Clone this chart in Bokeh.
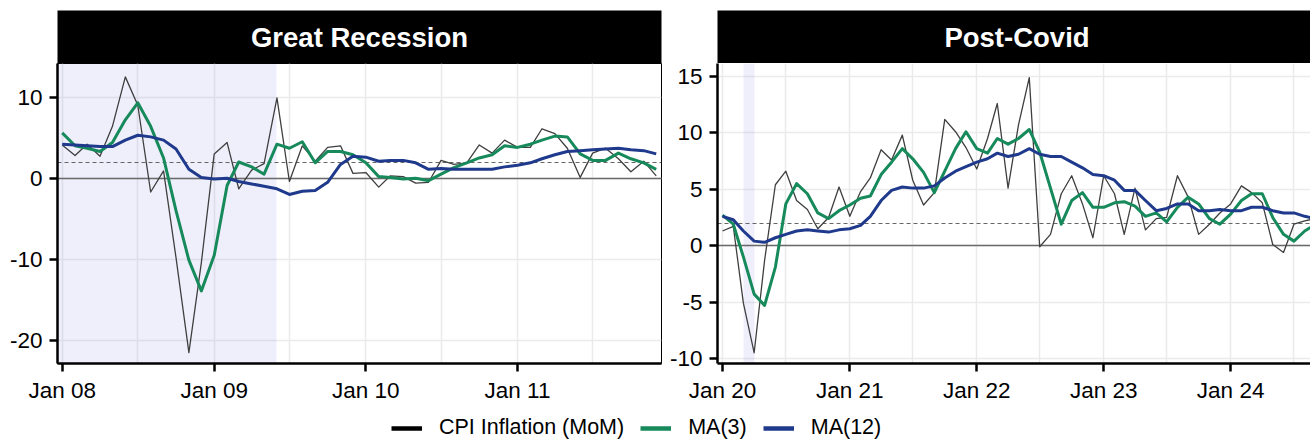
import pandas as pd
from bokeh.plotting import figure
from bokeh.layouts import column, row
from bokeh.models import (ColumnDataSource, FixedTicker, DatetimeTickFormatter,
                          Range1d, Legend, LegendItem, Label)
from bokeh.embed import file_html
from bokeh.resources import INLINE

# ---------------- data ----------------
panel_titles = ["Great Recession", "Post-Covid"]
series_names = ["CPI Inflation (MoM)", "MA(3)", "MA(12)"]

gr_start = "2008-01-01"
gr_cpi = [4.1, 2.8, 4.2, 2.7, 6.4, 12.5, 9.0, -1.7, 0.9, -9.8, -21.5, -10.4,
          3.0, 4.4, -1.3, 1.0, 1.8, 9.9, -0.4, 4.0, 2.1, 3.8, 4.0, 0.6,
          0.7, -1.1, 0.3, 0.2, -0.6, -0.5, 2.2, 1.7, 1.9, 4.1, 3.1, 4.7,
          3.8, 3.8, 6.1, 5.5, 3.7, 0.1, 3.1, 3.7, 2.4, 0.8, 2.1, 0.3]
gr_ma3 = [5.6, 4.0, 3.7, 3.3, 4.4, 7.2, 9.3, 6.4, 2.5, -4.0, -10.1, -13.9,
          -9.5, -0.9, 2.0, 1.4, 0.5, 4.2, 3.7, 4.5, 1.9, 3.3, 3.3, 2.9,
          1.9, 0.2, 0.1, -0.1, 0.0, -0.3, 0.5, 1.3, 1.9, 2.5, 2.9, 4.0,
          3.8, 4.2, 4.7, 5.2, 5.1, 3.0, 2.2, 2.2, 3.1, 2.4, 1.9, 1.1]
gr_ma12 = [4.2, 4.1, 4.0, 3.9, 3.9, 4.7, 5.3, 5.1, 4.7, 3.6, 1.1, 0.1,
           -0.1, 0.0, -0.4, -0.7, -1.0, -1.3, -2.0, -1.6, -1.5, -0.5, 1.7, 2.7,
           2.6, 2.1, 2.2, 2.2, 1.9, 1.1, 1.2, 1.1, 1.1, 1.1, 1.1, 1.4,
           1.6, 1.9, 2.4, 2.9, 3.3, 3.4, 3.5, 3.6, 3.7, 3.5, 3.4, 3.0]
gr_recession = ["2007-12-01", "2009-06-01"]
gr_year_ticks = ["2008-01-01", "2009-01-01", "2010-01-01", "2011-01-01"]
gr_half_ticks = ["2008-07-01", "2009-07-01", "2010-07-01", "2011-07-01"]
gr_y_ticks = [-20, -10, 0, 10]

pc_start = "2020-01-01"
pc_cpi = [1.3, 1.7, -5.1, -9.5, -1.3, 5.4, 6.6, 4.0, 3.2, 1.5, 2.5, 5.2,
          2.6, 4.8, 6.0, 8.5, 7.6, 9.8, 5.8, 3.6, 4.7, 11.2, 10.1, 8.7,
          6.8, 9.5, 12.6, 5.1, 10.7, 14.9, -0.1, 1.0, 4.6, 6.2, 3.7, 0.7,
          6.2, 4.6, 1.0, 5.1, 1.4, 2.4, 2.5, 6.2, 4.3, 1.0, 1.9, 2.9,
          3.7, 5.3, 4.7, 3.8, 0.1, -0.6, 1.9, 2.2, 2.4]
pc_ma3 = [2.7, 1.9, -1.0, -4.3, -5.3, -1.9, 3.7, 5.5, 4.6, 2.9, 2.4, 3.1,
          3.6, 4.2, 4.4, 6.3, 7.4, 8.6, 7.7, 6.5, 4.7, 6.6, 8.6, 10.1,
          8.6, 8.2, 9.5, 9.0, 9.5, 10.3, 8.3, 5.1, 1.9, 4.0, 4.7, 3.4,
          3.4, 3.8, 3.9, 3.5, 2.6, 2.9, 2.1, 3.4, 4.3, 3.7, 2.4, 1.9,
          2.8, 4.0, 4.6, 4.6, 2.5, 1.0, 0.4, 1.3, 1.9]
pc_ma12 = [2.6, 2.3, 1.3, 0.4, 0.3, 0.7, 1.0, 1.3, 1.4, 1.3, 1.2, 1.4,
           1.5, 1.8, 2.6, 4.0, 4.9, 5.2, 5.1, 5.1, 5.3, 6.0, 6.6, 7.0,
           7.4, 7.7, 8.2, 7.9, 8.1, 8.6, 8.1, 7.9, 7.9, 7.4, 6.9, 6.3,
           6.2, 5.8, 4.9, 4.9, 4.0, 3.1, 3.3, 3.7, 3.7, 3.1, 3.1, 3.2,
           3.1, 3.1, 3.4, 3.4, 3.1, 2.9, 2.9, 2.6, 2.4]
pc_recession = ["2020-03-01", "2020-04-01"]
pc_year_ticks = ["2020-01-01", "2021-01-01", "2022-01-01", "2023-01-01", "2024-01-01"]
pc_half_ticks = ["2020-07-01", "2021-07-01", "2022-07-01", "2023-07-01", "2024-07-01"]
pc_y_ticks = [-10, -5, 0, 5, 10, 15]

zero_line = [0]
target_line = [2]

# ---------------- style ----------------
FONT = "Liberation Sans"
GREEN = "#178a5c"
BLUE = "#1f3a8c"
GRAY = "#3f3f3f"
GRID = "#ebebeb"


def ms(s):
    return pd.Timestamp(s).value / 1e6


def make_panel(start, cpi, ma3, ma12, rec, xticks, yticks, xr, yr, width,
               mbl, mbr, outline):
    dates = pd.date_range(start, periods=len(cpi), freq="MS")
    src = ColumnDataSource(dict(date=dates, cpi=cpi, ma3=ma3, ma12=ma12))
    p = figure(width=width, height=345, x_axis_type="datetime",
               x_range=xr, y_range=yr, output_backend="svg",
               toolbar_location=None, min_border_left=mbl,
               min_border_right=mbr, min_border_top=0, min_border_bottom=45)
    p.background_fill_color = "white"
    p.border_fill_color = "white"
    if outline:
        p.outline_line_color = "black"
        p.outline_line_width = 1
    else:
        p.outline_line_color = None

    xt = FixedTicker(ticks=[ms(t) for t in xticks[0]],
                     minor_ticks=[ms(t) for t in xticks[1]])
    p.xaxis.ticker = xt
    p.xgrid.ticker = xt
    fmt = "%b %y"
    p.xaxis.formatter = DatetimeTickFormatter(
        years=fmt, months=fmt, days=fmt, hours=fmt, minutes=fmt,
        hourmin=fmt, seconds=fmt, minsec=fmt, milliseconds=fmt,
        microseconds=fmt)
    yt = FixedTicker(ticks=yticks)
    p.yaxis.ticker = yt
    p.ygrid.ticker = yt
    p.yaxis.major_label_overrides = {t: str(t) for t in yticks}

    for ax in (p.xaxis[0], p.yaxis[0]):
        ax.axis_line_color = "black"
        ax.axis_line_width = 2.5
        ax.major_tick_line_color = "black"
        ax.major_tick_line_width = 2.5
        ax.major_tick_out = 8
        ax.major_tick_in = 0
        ax.minor_tick_out = 0
        ax.minor_tick_in = 0
        ax.major_label_text_font = FONT
        ax.major_label_text_font_size = "22.5px"
        ax.major_label_text_color = "black"
    p.xaxis.major_label_standoff = 6
    p.yaxis.major_label_standoff = 7

    p.xgrid.grid_line_color = GRID
    p.xgrid.grid_line_width = 1.5
    p.xgrid.minor_grid_line_color = GRID
    p.xgrid.minor_grid_line_width = 1.5
    p.ygrid.grid_line_color = GRID
    p.ygrid.grid_line_width = 1.5

    rsrc = ColumnDataSource(dict(x0=[pd.Timestamp(rec[0])], x1=[pd.Timestamp(rec[1])]))
    p.vstrip(x0="x0", x1="x1", source=rsrc, fill_color="#5f5fe1",
             fill_alpha=0.1, line_color=None)
    p.hspan(y=zero_line, line_color="#6a6a6a", line_width=1.3)
    p.hspan(y=target_line, line_color="#555555", line_width=0.9,
            line_dash="4 3")

    p.line("date", "cpi", source=src, line_color=GRAY, line_width=1.3,
           line_join="round")
    p.line("date", "ma3", source=src, line_color=GREEN, line_width=3,
           line_join="round")
    p.line("date", "ma12", source=src, line_color=BLUE, line_width=3,
           line_join="round")
    return p


def make_strip(title, width, mbl, mbr, xend):
    s = figure(width=width, height=63, x_range=Range1d(0, xend),
               y_range=Range1d(0, 1), output_backend="svg",
               toolbar_location=None, x_axis_location=None,
               y_axis_location=None, min_border_left=mbl,
               min_border_right=mbr, min_border_top=10, min_border_bottom=0)
    s.grid.visible = False
    s.background_fill_color = "black"
    s.border_fill_color = "white"
    s.outline_line_color = None
    s.add_layout(Label(x=0.5, y=0.5, text=title, text_align="center",
                       text_baseline="middle", text_color="white",
                       text_font=FONT, text_font_size="27.5px",
                       text_font_style="bold"))
    return s


# page coords (no body margin): left frame x 57..661, right frame 716..1310
LW, LMB_L, LMB_R = 666, 57, 5
RW, RMB_L, RMB_R = 644, 50, 0

p_left = make_panel(gr_start, gr_cpi, gr_ma3, gr_ma12, gr_recession,
                    (gr_year_ticks, gr_half_ticks), gr_y_ticks,
                    Range1d(pd.Timestamp("2007-12-20 17:00"),
                            pd.Timestamp("2011-12-13 17:00")),
                    Range1d(-22.85, 14.15), LW, LMB_L, LMB_R, True)
p_right = make_panel(pc_start, pc_cpi, pc_ma3, pc_ma12, pc_recession,
                     (pc_year_ticks, pc_half_ticks), pc_y_ticks,
                     Range1d(pd.Timestamp("2019-12-17 14:00"),
                             pd.Timestamp("2024-08-17 14:00")),
                     Range1d(-10.45, 16.15), RW, RMB_L, RMB_R, False)

s_left = make_strip(panel_titles[0], LW, LMB_L, LMB_R, 1.0)
s_right = make_strip(panel_titles[1], RW, RMB_L, RMB_R, 0.99)

# legend (key samples only; kept outside the legend canvas' visible range)
lg = figure(width=1310, height=35, x_range=Range1d(0, 1), y_range=Range1d(0, 1),
            x_axis_location=None, y_axis_location=None, output_backend="svg",
            toolbar_location=None, min_border=0)
lg.grid.visible = False
lg.outline_line_color = None
key_src = ColumnDataSource(dict(x=[5, 6], y=[5, 5]))
r1 = lg.line("x", "y", source=key_src, line_color="black", line_width=4.5)
r2 = lg.line("x", "y", source=key_src, line_color=GREEN, line_width=4.5)
r3 = lg.line("x", "y", source=key_src, line_color=BLUE, line_width=4.5)
legend = Legend(items=[LegendItem(label=series_names[0], renderers=[r1]),
                       LegendItem(label=series_names[1], renderers=[r2]),
                       LegendItem(label=series_names[2], renderers=[r3])],
                orientation="horizontal", location=(391, 3),
                glyph_width=31, glyph_height=24, label_height=24,
                label_standoff=17, spacing=16, padding=0, margin=0,
                border_line_color=None, background_fill_alpha=0,
                label_text_font=FONT, label_text_font_size="21.5px",
                label_text_color="black")
lg.add_layout(legend)

layout = column(row(column(s_left, p_left), column(s_right, p_right)), lg)

open("out.html", "w").write(file_html(layout, INLINE))
